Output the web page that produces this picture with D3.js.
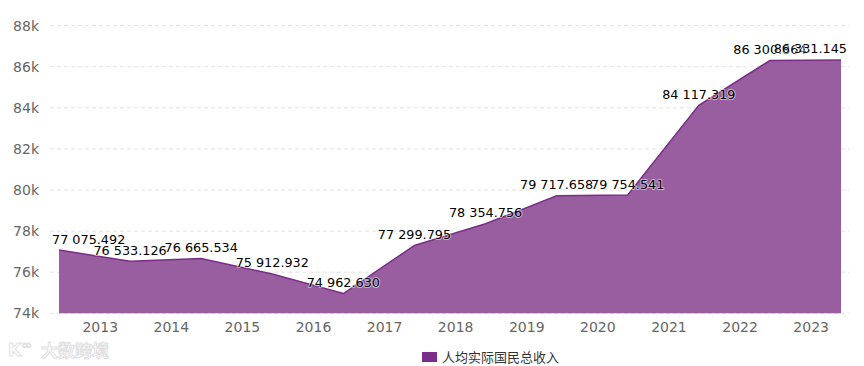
<!DOCTYPE html>
<html><head><meta charset="utf-8">
<script src="https://cdn.jsdelivr.net/npm/d3@7"></script>
<style>
html,body{margin:0;padding:0;background:#fff;}
svg{display:block;}
</style></head>
<body>
<svg id="chart" width="864" height="366"></svg>
<script>
const years = [2012, 2013, 2014, 2015, 2016, 2017, 2018, 2019, 2020, 2021, 2022, 2023];
const values = [77075.492, 76533.126, 76665.534, 75912.932, 74962.630, 77299.795, 78354.756, 79717.658, 79754.541, 84117.319, 86300.864, 86331.145];
const tickYears = [2013, 2014, 2015, 2016, 2017, 2018, 2019, 2020, 2021, 2022, 2023];
const yTicks = [74000, 76000, 78000, 80000, 82000, 84000, 86000, 88000];
const seriesName = "人均实际国民总收入";

const svg = d3.select("#chart");
const x = d3.scaleLinear().domain([2012, 2023]).range([59, 841]);
const y = d3.scaleLinear().domain([74000, 88000]).range([313.3, 25.6]);
const tickOffset = 0.42;

// gridlines
svg.append("g").selectAll("line").data(yTicks).join("line")
  .attr("x1", 50).attr("x2", 849)
  .attr("y1", d => y(d)).attr("y2", d => y(d))
  .attr("stroke", "#e2e2e2").attr("stroke-width", 1).attr("stroke-dasharray", "4,3");

// y axis labels
svg.append("g").selectAll("text").data(yTicks).join("text")
  .attr("x", 39).attr("y", d => y(d)).attr("dy", "0.35em")
  .attr("text-anchor", "end")
  .attr("font-family", "DejaVu Sans, sans-serif").attr("font-size", 14)
  .attr("fill", "#666")
  .text(d => (d / 1000) + "k");

// area
const pts = years.map((yr, i) => ({yr, v: values[i]}));
const area = d3.area().x(d => x(d.yr)).y0(y(74000)).y1(d => y(d.v));
const line = d3.line().x(d => x(d.yr)).y(d => y(d.v));
svg.append("path").datum(pts).attr("d", area).attr("fill", "#985e9f");
svg.append("path").datum(pts).attr("d", line).attr("fill", "none")
  .attr("stroke", "#7a2e86").attr("stroke-width", 1.5);

// x axis labels
svg.append("g").selectAll("text").data(tickYears).join("text")
  .attr("x", d => x(d - tickOffset)).attr("y", 332)
  .attr("text-anchor", "middle")
  .attr("font-family", "DejaVu Sans, sans-serif").attr("font-size", 14)
  .attr("fill", "#666")
  .text(d => d);

// data labels
const fmt = v => {
  const s = v.toFixed(3);
  const [ip, dp] = s.split(".");
  return ip.replace(/\B(?=(\d{3})+(?!\d))/g, " ") + "." + dp;
};
const lbl = svg.append("g").selectAll("text").data(pts).join("text")
  .attr("y", d => y(d.v) - 6.5)
  .attr("font-family", "DejaVu Sans, sans-serif").attr("font-size", 12.8)
  .attr("fill", "#000")
  .attr("stroke", "#fff").attr("stroke-width", 2).attr("stroke-opacity", 0.5)
  .attr("stroke-linejoin", "round").attr("paint-order", "stroke")
  .text(d => fmt(d.v));
lbl.each(function(d) {
  const w = this.getComputedTextLength();
  let left = x(d.yr) - w / 2;
  if (left < 52) left = 52;
  if (left + w > 847) left = 847 - w;
  d3.select(this).attr("x", left);
});

// legend
const lg = svg.append("g");
lg.append("rect").attr("x", 422).attr("y", 352).attr("width", 15).attr("height", 10).attr("fill", "#7b2d8b");
lg.append("text").attr("x", 442).attr("y", 357).attr("dy", "0.35em")
  .attr("font-family", "Noto Sans CJK SC, sans-serif").attr("font-size", 13)
  .attr("fill", "#333").text(seriesName);

// watermark
const wm = svg.append("g");
wm.append("text").attr("x", 8).attr("y", 356)
  .attr("font-family", "DejaVu Sans, sans-serif").attr("font-size", 17).attr("font-weight", "bold")
  .attr("fill", "#fff").attr("stroke", "#e2e2e2").attr("stroke-width", 1)
  .text("K");
wm.append("text").attr("x", 21).attr("y", 349)
  .attr("font-family", "DejaVu Sans, sans-serif").attr("font-size", 13)
  .attr("fill", "#fff").attr("stroke", "#e2e2e2").attr("stroke-width", 1)
  .text("∞");
wm.append("text").attr("x", 41).attr("y", 357)
  .attr("font-family", "Noto Sans CJK SC, sans-serif").attr("font-size", 17).attr("font-weight", "bold")
  .attr("fill", "#fff").attr("stroke", "#e0e0e0").attr("stroke-width", 1)
  .text("大数跨境");
</script>
</body></html>
